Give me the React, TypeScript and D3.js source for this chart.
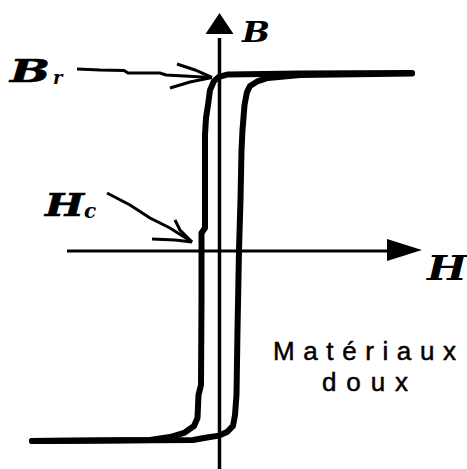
import React from "react";
import * as d3 from "d3";

// Hysteresis loop of a soft magnetic material (H in arbitrary units, B normalised)
const descH = [19.25, 8.05, 0.85, -0.05, -0.55, -0.95, -1.15, -1.35, -1.45, -1.45, -1.8, -1.8, -1.85, -2.1, -2.2, -2.55, -3.55, -4.95, -6.95, -18.75];
const descB = [1.0, 0.997, 0.992, 0.978, 0.955, 0.904, 0.82, 0.747, 0.652, 0.129, 0.101, -0.275, -0.753, -0.809, -0.938, -0.983, -1.022, -1.045, -1.062, -1.067];
const ascH = [-18.75, -2.65, -1.25, -0.05, 0.75, 1.35, 1.55, 1.7, 1.8, 1.95, 2.1, 2.2, 2.3, 2.5, 2.75, 3.05, 3.85, 4.85, 8.05, 19.25];
const ascB = [-1.067, -1.062, -1.048, -1.037, -1.017, -0.983, -0.921, -0.809, -0.444, 0.006, 0.287, 0.567, 0.68, 0.82, 0.893, 0.927, 0.955, 0.972, 0.989, 0.997];

const axisLabels = { b: "B", h: "H" };
const annotations = { br: "B", brSub: "r", hc: "H", hcSub: "c" };
const caption = ["Matériaux", "doux"];

const W = 467;
const H = 469;

export default function App() {
  const x = d3.scaleLinear().domain([0, 10]).range([219.5, 319.5]);
  const y = d3.scaleLinear().domain([0, 1]).range([251, 73]);

  const line = d3
    .line<[number, number]>()
    .x((d) => x(d[0]))
    .y((d) => y(d[1]))
    .curve(d3.curveLinear);

  const desc = descH.map((h, i) => [h, descB[i]] as [number, number]);
  const asc = ascH.map((h, i) => [h, ascB[i]] as [number, number]);

  const ox = x(0);
  const oy = y(0);

  // annotation tips in data units
  const brTip = [x(-0.75), y(0.975)];
  const hcTip = [x(-2.75), y(0.05)];

  const serif = "'DejaVu Serif', 'Liberation Serif', serif";
  const sans = "'Liberation Sans', Arial, sans-serif";

  return (
    <svg
      width={W}
      height={H}
      style={{ position: "absolute", left: 0, top: 0, background: "#fff" }}
    >
      <rect x={0} y={0} width={W} height={H} fill="#fff" />
      {/* B axis */}
      <line x1={ox} x2={ox} y1={38} y2={469} stroke="#000" strokeWidth={3.5} />
      <path d={`M${ox},13 L${ox + 14},34 L${ox - 14},34 Z`} fill="#000" />
      {/* H axis */}
      <line x1={67} x2={388} y1={oy} y2={oy} stroke="#000" strokeWidth={3} />
      <path d={`M422,${oy - 1} L387,${oy - 12} L387,${oy + 10} Z`} fill="#000" />

      {/* loop */}
      <path d={line(desc) || ""} fill="none" stroke="#000" strokeWidth={6} strokeLinejoin="round" strokeLinecap="round" />
      <path d={line(asc) || ""} fill="none" stroke="#000" strokeWidth={6} strokeLinejoin="round" strokeLinecap="round" />

      {/* Br annotation arrow */}
      <path
        d={`M77,69 L100,70 L124,70.5 L128,73 L160,73 L166,75 L${brTip[0]},${brTip[1]}`}
        fill="none"
        stroke="#000"
        strokeWidth={3}
      />
      <path
        d={`M177,64 L195,70 L${brTip[0]},${brTip[1]} M170,88 L190,82 L${brTip[0]},${brTip[1]}`}
        fill="none"
        stroke="#000"
        strokeWidth={3}
      />
      {/* Hc annotation arrow */}
      <path
        d={`M107,193 L130,205 L150,218 L170,228 L${hcTip[0]},${hcTip[1]}`}
        fill="none"
        stroke="#000"
        strokeWidth={3}
      />
      <path
        d={`M175,220 L180,230 L${hcTip[0]},${hcTip[1]} M152,239 L175,240 L${hcTip[0]},${hcTip[1]}`}
        fill="none"
        stroke="#000"
        strokeWidth={3}
      />

      {/* labels */}
      <text x={242} y={42} fontFamily={serif} fontWeight="bold" fontStyle="italic" fontSize={28} textLength={28} lengthAdjust="spacingAndGlyphs">
        {axisLabels.b}
      </text>
      <text x={427} y={280} fontFamily={serif} fontWeight="bold" fontStyle="italic" fontSize={33} textLength={40} lengthAdjust="spacingAndGlyphs">
        {axisLabels.h}
      </text>
      <text x={10} y={82} fontFamily={serif} fontWeight="bold" fontStyle="italic" fontSize={31} textLength={40} lengthAdjust="spacingAndGlyphs" stroke="#000" strokeWidth={0.6}>
        {annotations.br}
      </text>
      <text x={53} y={84} fontFamily={serif} fontWeight="bold" fontStyle="italic" fontSize={18}>
        {annotations.brSub}
      </text>
      <text x={45} y={216} fontFamily={serif} fontWeight="bold" fontStyle="italic" fontSize={31} textLength={39} lengthAdjust="spacingAndGlyphs" stroke="#000" strokeWidth={0.6}>
        {annotations.hc}
      </text>
      <text x={84} y={218} fontFamily={serif} fontWeight="bold" fontStyle="italic" fontSize={20}>
        {annotations.hcSub}
      </text>

      <text x={273} y={360} fontFamily={sans} fontSize={26} textLength={183} lengthAdjust="spacing" stroke="#000" strokeWidth={0.5}>
        {caption[0]}
      </text>
      <text x={322} y={391} fontFamily={sans} fontSize={26} textLength={86} lengthAdjust="spacing" stroke="#000" strokeWidth={0.5}>
        {caption[1]}
      </text>
    </svg>
  );
}
